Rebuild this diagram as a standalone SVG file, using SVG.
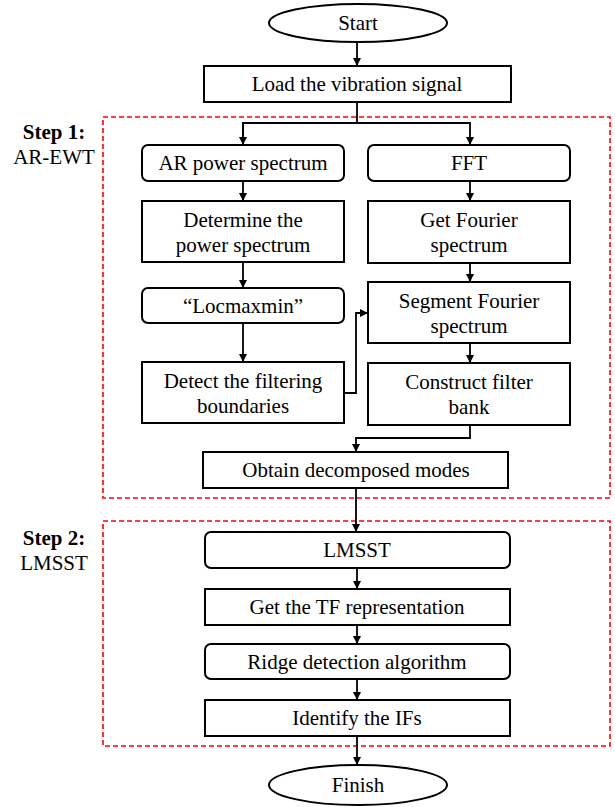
<svg xmlns="http://www.w3.org/2000/svg" width="615" height="807" viewBox="0 0 615 807">
<style>
.box{fill:#fff;stroke:#000;stroke-width:2}
.t{font-family:'Liberation Serif','Times New Roman',serif;font-size:21px;fill:#000;text-anchor:middle}
.b{font-weight:bold}
.step{fill:none;stroke:#ff0000;stroke-width:1.6;stroke-dasharray:5 3}
.c{fill:none;stroke:#000;stroke-width:1.8}
</style>
<defs>
<marker id="ah" viewBox="0 0 10 10" refX="10" refY="5" markerWidth="8" markerHeight="8" markerUnits="userSpaceOnUse" orient="auto">
<path d="M0,0 L10,5 L0,10 z" fill="#000"/>
</marker>
</defs>
<rect width="615" height="807" fill="#fff"/>
<g id="step1-frame">
<rect class="step" x="103" y="117" width="507" height="381"/>
<text class="t b" x="54" y="139">Step 1:</text>
<text class="t" x="54" y="164">AR-EWT</text>
</g>
<g id="step2-frame">
<rect class="step" x="103" y="521" width="507" height="225"/>
<text class="t b" x="54" y="545">Step 2:</text>
<text class="t" x="54" y="570">LMSST</text>
</g>
<g id="connectors">
<line class="c" x1="357" y1="42" x2="357" y2="66" marker-end="url(#ah)"/>
<polyline class="c" points="357,102 357,123"/>
<polyline class="c" points="243,145 243,123 470,123 470,145" marker-end="url(#ah)"/>
<line class="c" x1="243" y1="123" x2="243" y2="145" marker-end="url(#ah)"/>
<line class="c" x1="243" y1="181" x2="243" y2="201" marker-end="url(#ah)"/>
<line class="c" x1="243" y1="262" x2="243" y2="288" marker-end="url(#ah)"/>
<line class="c" x1="243" y1="323" x2="243" y2="362" marker-end="url(#ah)"/>
<polyline class="c" points="344,393 356,393 356,313 368,313" marker-end="url(#ah)"/>
<line class="c" x1="470" y1="181" x2="470" y2="201" marker-end="url(#ah)"/>
<line class="c" x1="470" y1="263" x2="470" y2="282" marker-end="url(#ah)"/>
<line class="c" x1="470" y1="343" x2="470" y2="363" marker-end="url(#ah)"/>
<polyline class="c" points="470,425 470,438 356,438 356,452" marker-end="url(#ah)"/>
<line class="c" x1="356" y1="488" x2="356" y2="532" marker-end="url(#ah)"/>
<line class="c" x1="357" y1="568" x2="357" y2="589" marker-end="url(#ah)"/>
<line class="c" x1="357" y1="625" x2="357" y2="644" marker-end="url(#ah)"/>
<line class="c" x1="357" y1="679" x2="357" y2="700" marker-end="url(#ah)"/>
<line class="c" x1="357" y1="736" x2="357" y2="765" marker-end="url(#ah)"/>
</g>
<g id="start">
<ellipse class="box" cx="358" cy="23" rx="89" ry="19"/>
<text class="t" x="358" y="30">Start</text>
</g>
<g id="load">
<rect class="box" x="204" y="66" width="307" height="36"/>
<text class="t" x="357" y="91">Load the vibration signal</text>
</g>
<g id="ar">
<rect class="box" x="142" y="145" width="202" height="36" rx="6"/>
<text class="t" x="243" y="170">AR power spectrum</text>
</g>
<g id="determine">
<rect class="box" x="142" y="201" width="202" height="61"/>
<text class="t" x="243" y="227">Determine the</text>
<text class="t" x="243" y="252">power spectrum</text>
</g>
<g id="locmaxmin">
<rect class="box" x="142" y="288" width="202" height="35" rx="6"/>
<text class="t" x="243" y="313">“Locmaxmin”</text>
</g>
<g id="detect">
<rect class="box" x="142" y="362" width="202" height="61"/>
<text class="t" x="243" y="388">Detect the filtering</text>
<text class="t" x="243" y="413">boundaries</text>
</g>
<g id="fft">
<rect class="box" x="368" y="145" width="202" height="36" rx="6"/>
<text class="t" x="469" y="170">FFT</text>
</g>
<g id="getfourier">
<rect class="box" x="368" y="201" width="202" height="62"/>
<text class="t" x="469" y="227">Get Fourier</text>
<text class="t" x="469" y="252">spectrum</text>
</g>
<g id="segment">
<rect class="box" x="368" y="282" width="202" height="61"/>
<text class="t" x="469" y="308">Segment Fourier</text>
<text class="t" x="469" y="333">spectrum</text>
</g>
<g id="construct">
<rect class="box" x="368" y="363" width="202" height="62"/>
<text class="t" x="469" y="389">Construct filter</text>
<text class="t" x="469" y="414">bank</text>
</g>
<g id="obtain">
<rect class="box" x="203" y="452" width="305" height="36"/>
<text class="t" x="356" y="477">Obtain decomposed modes</text>
</g>
<g id="lmsst">
<rect class="box" x="205" y="532" width="305" height="36" rx="6"/>
<text class="t" x="357" y="557">LMSST</text>
</g>
<g id="tf">
<rect class="box" x="205" y="589" width="305" height="36"/>
<text class="t" x="357" y="614">Get the TF representation</text>
</g>
<g id="ridge">
<rect class="box" x="205" y="644" width="305" height="35" rx="6"/>
<text class="t" x="357" y="669">Ridge detection algorithm</text>
</g>
<g id="identify">
<rect class="box" x="205" y="700" width="305" height="36"/>
<text class="t" x="357" y="725">Identify the IFs</text>
</g>
<g id="finish">
<ellipse class="box" cx="358" cy="785" rx="89" ry="20"/>
<text class="t" x="358" y="792">Finish</text>
</g>
</svg>
